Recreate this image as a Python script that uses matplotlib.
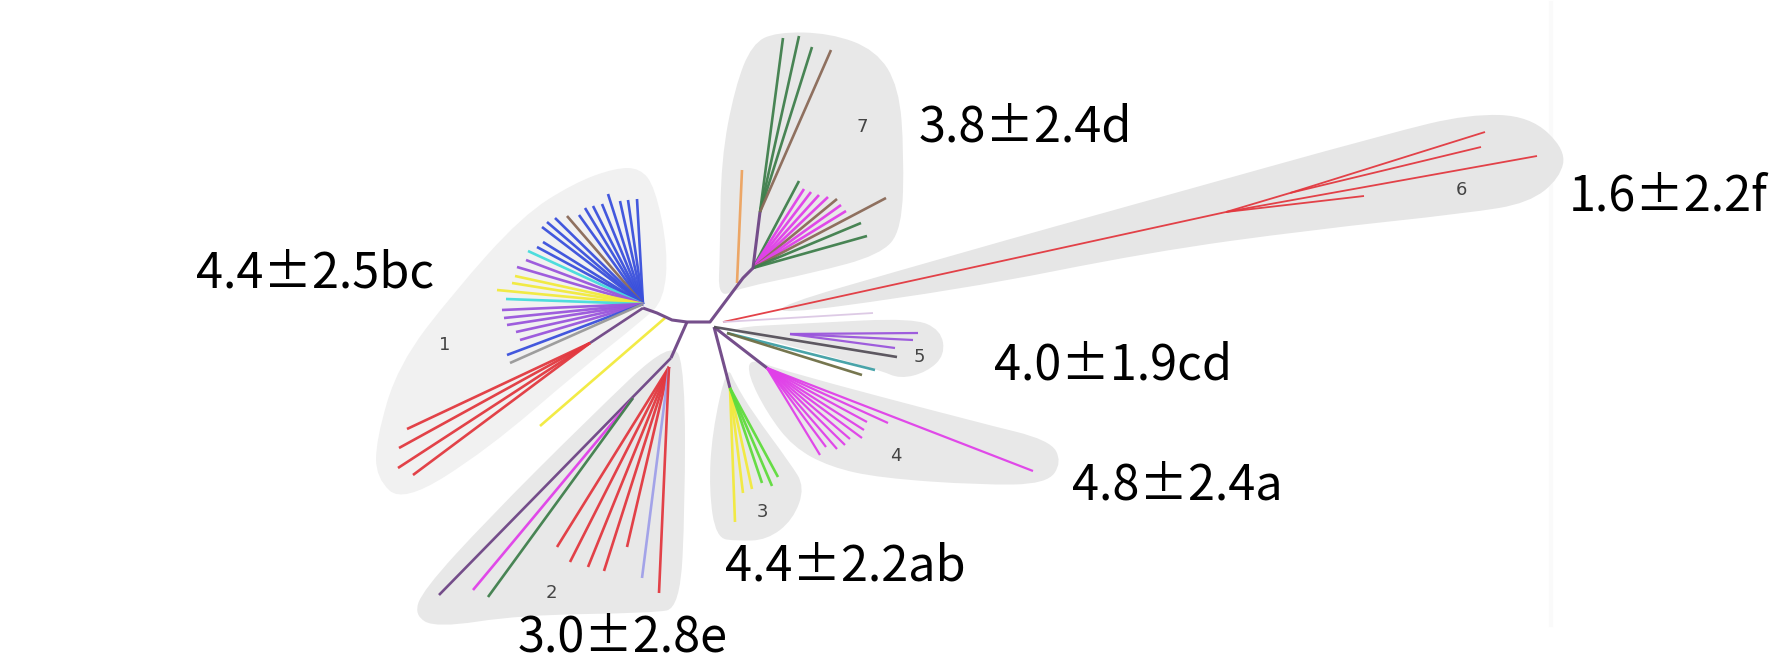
import matplotlib
matplotlib.use('Agg')
import matplotlib.pyplot as plt
from matplotlib.path import Path
from matplotlib.patches import PathPatch

RED = '#e2383f'
BLUE = '#3a50dc'
PURPLE = '#9a55dc'
TRUNK = '#6e4585'
GREEN = '#3f7f4c'
BROWN = '#8a6a58'
YELLOW = '#f2ea3c'
CYAN = '#45dcdc'
MAG = '#e040e8'
LIME = '#5fdc3c'

# labels
labels = ['4.4±2.5bc', '3.8±2.4d', '1.6±2.2f', '4.0±1.9cd', '4.8±2.4a', '4.4±2.2ab', '3.0±2.8e']
label_x = [196, 919, 1569, 994, 1072, 725, 518]
label_y = [274, 128, 197, 366, 486, 567, 638]

nums = ['1', '2', '3', '4', '5', '6', '7']
num_x = [445, 551, 762, 896, 919, 1461, 862]
num_y = [345, 593, 512, 456, 357, 190, 127]

# gray clade outlines
blob1_x = [640, 655, 668, 664, 643, 580, 487, 403, 376, 376, 398, 454, 522, 574, 615]
blob1_y = [168, 187, 250, 300, 320, 370, 450, 503, 478, 440, 365, 292, 216, 183, 168]
blob2_x = [673, 685, 685, 680, 653, 520, 436, 414, 423, 487, 587]
blob2_y = [338, 373, 507, 608, 613, 615, 628, 615, 590, 520, 420]
blob3_x = [727, 712, 709, 716, 737, 767, 793, 805, 790, 753, 735]
blob3_y = [365, 433, 490, 538, 541, 540, 520, 487, 463, 413, 383]
blob4_x = [750, 780, 980, 1050, 1062, 1047, 980, 880, 830, 793, 767, 748]
blob4_y = [358, 370, 423, 440, 462, 484, 485, 478, 467, 447, 413, 375]
blob5_x = [717, 813, 913, 941, 945, 927, 900, 880, 780]
blob5_y = [328, 323, 318, 330, 355, 372, 379, 370, 343]
blob6_x = [722, 960, 1150, 1390, 1469, 1530, 1566, 1560, 1529, 1469, 1310, 1150, 960]
blob6_y = [322, 253, 200, 133, 114, 116, 150, 178, 203, 213, 230, 252, 290]
blob7_x = [776, 830, 876, 899, 904, 902, 880, 813, 740, 718, 720, 721, 735, 752]
blob7_y = [32, 33, 50, 87, 153, 230, 255, 273, 288, 298, 253, 160, 87, 44]

# backbone
trunk_x = [643, 657, 672, 687, 710, 743, 753, 760]
trunk_y = [308, 313, 320, 322, 322, 278, 268, 212]

# clade 1
c1_x = [637, 628, 620, 608, 602, 593, 585, 579, 567, 555, 547, 542, 543, 537, 528, 526, 517, 515, 512, 497, 506, 502, 504, 507, 516, 520, 507, 510]
c1_y = [199, 200, 201, 194, 204, 206, 208, 215, 216, 218, 222, 227, 242, 247, 251, 260, 267, 276, 283, 290, 299, 310, 318, 325, 332, 340, 355, 363]
c1_col = [BLUE] * 8 + [BROWN] + [BLUE] * 5 + [CYAN] + [PURPLE] * 2 + [YELLOW] * 3 + [CYAN] + [PURPLE] * 5 + [BLUE, '#999999']
c1_red_x = [407, 399, 398, 413]
c1_red_y = [429, 448, 468, 475]
c1_stem_x = [643, 590]
c1_stem_y = [308, 343]
lone_x = [665, 540]
lone_y = [318, 426]

# clade 2
c2_stem_x = [687, 671]
c2_stem_y = [322, 358]
c2_red_x = [557, 570, 588, 604, 627, 642, 659]
c2_red_y = [547, 562, 567, 571, 547, 578, 593]
c2_col = [RED] * 5 + ['#a0a0e8', RED]
c2_long_x = [671, 439]
c2_long_y = [358, 595]
c2_side_x = [473, 488]
c2_side_y = [590, 597]

# clade 3
c3_stem_x = [714, 730]
c3_stem_y = [327, 388]
c3_x = [735, 743, 752, 762, 772, 778]
c3_y = [522, 493, 489, 483, 486, 477]
c3_col = [YELLOW] * 3 + [LIME] * 3

# clade 4
c4_stem_x = [714, 767]
c4_stem_y = [327, 368]
c4_x = [1033, 888, 867, 864, 862, 850, 845, 837, 826, 820]
c4_y = [471, 423, 422, 430, 438, 439, 445, 449, 447, 455]

# clade 5
c5_dark_x = [714, 897]
c5_dark_y = [327, 357]
c5_x = [918, 913, 895]
c5_y = [333, 340, 348]
teal_x = [727, 875]
teal_y = [333, 370]
olive_x = [727, 862]
olive_y = [333, 375]

# clade 6
c6_stem_x = [723, 1226]
c6_stem_y = [322, 212]
c6_x = [1537, 1364]
c6_y = [156, 196]
c6_sub_x = [1290, 1485, 1481]
c6_sub_y = [193, 132, 147]
faint_x = [723, 873]
faint_y = [322, 313]

# clade 7
c7_top_x = [783, 799, 812, 831]
c7_top_y = [38, 36, 47, 50]
c7_top_col = [GREEN] * 3 + [BROWN]
orange_x = [742, 737]
orange_y = [170, 283]
c7_fan_x = [799, 804, 811, 819, 828, 837, 841, 846, 886, 861, 867]
c7_fan_y = [181, 189, 192, 195, 197, 199, 205, 211, 198, 223, 236]
c7_fan_col = [GREEN] + [MAG] * 4 + [BROWN] + [MAG] * 2 + [BROWN, GREEN, GREEN]


def blob(ax, xs, ys, color):
    # closed smooth outline, points are the control points of quadratic curves
    n = len(xs)
    mid = [((xs[i] + xs[(i + 1) % n]) / 2, (ys[i] + ys[(i + 1) % n]) / 2) for i in range(n)]
    verts = [mid[-1]]
    codes = [Path.MOVETO]
    for i in range(n):
        verts += [(xs[i], ys[i]), mid[i]]
        codes += [Path.CURVE3, Path.CURVE3]
    ax.add_patch(PathPatch(Path(verts, codes), fc=color, ec='none', zorder=1))


def line(ax, xs, ys, color, lw=1.9, alpha=0.95, z=3):
    ax.plot(xs, ys, color=color, lw=lw, alpha=alpha, zorder=z, solid_capstyle='butt')


def fan(ax, rx, ry, xs, ys, cols, lw=1.9):
    for x, y, c in zip(xs, ys, cols):
        line(ax, [rx, x], [ry, y], c, lw)


fig = plt.figure(figsize=(17.76, 6.55), dpi=100)
ax = fig.add_axes([0, 0, 1, 1])
ax.set_xlim(0, 1776)
ax.set_ylim(655, 0)
ax.axis('off')

# faint seam of the pasted image
ax.plot([1551, 1551], [3, 625], color='#fafafa', lw=3, zorder=0)

blob(ax, blob1_x, blob1_y, '#f1f1f1')
blob(ax, blob2_x, blob2_y, '#e8e8e8')
blob(ax, blob3_x, blob3_y, '#e8e8e8')
blob(ax, blob4_x, blob4_y, '#e8e8e8')
blob(ax, blob5_x, blob5_y, '#e8e8e8')
blob(ax, blob6_x, blob6_y, '#e6e6e6')
blob(ax, blob7_x, blob7_y, '#e8e8e8')

# clade 1
fan(ax, 643, 304, c1_x, c1_y, c1_col)
line(ax, c1_stem_x, c1_stem_y, TRUNK)
fan(ax, c1_stem_x[1], c1_stem_y[1], c1_red_x, c1_red_y, [RED] * 4)
line(ax, lone_x, lone_y, YELLOW)

# clade 2
line(ax, c2_stem_x, c2_stem_y, TRUNK, 2.2)
fan(ax, 669, 367, c2_red_x, c2_red_y, c2_col)
line(ax, c2_long_x, c2_long_y, TRUNK)
fan(ax, 633, 398, c2_side_x, c2_side_y, [MAG, GREEN])

# clade 3
line(ax, c3_stem_x, c3_stem_y, TRUNK, 2.2)
fan(ax, c3_stem_x[1], c3_stem_y[1], c3_x, c3_y, c3_col)

# clade 4
line(ax, c4_stem_x, c4_stem_y, TRUNK, 2.2)
fan(ax, c4_stem_x[1], c4_stem_y[1], c4_x, c4_y, [MAG] * 10, 1.6)

# clade 5
fan(ax, 790, 334, c5_x, c5_y, [PURPLE] * 3, 1.6)
line(ax, c5_dark_x, c5_dark_y, '#55505a')
line(ax, teal_x, teal_y, '#3f9fa5')
line(ax, olive_x, olive_y, '#6f6f45')

# clade 6
line(ax, c6_stem_x, c6_stem_y, RED, 1.3)
fan(ax, c6_stem_x[1], c6_stem_y[1], c6_x, c6_y, [RED] * 2, 1.3)
line(ax, [c6_stem_x[1], c6_sub_x[0]], [c6_stem_y[1], c6_sub_y[0]], RED, 1.3)
fan(ax, c6_sub_x[0], c6_sub_y[0], c6_sub_x[1:], c6_sub_y[1:], [RED] * 2, 1.3)
line(ax, faint_x, faint_y, '#dcc8e4', 1.3)

# clade 7
fan(ax, 760, 212, c7_top_x, c7_top_y, c7_top_col)
line(ax, orange_x, orange_y, '#eda35f')
fan(ax, 753, 268, c7_fan_x, c7_fan_y, c7_fan_col)

line(ax, trunk_x, trunk_y, TRUNK, 2.2, z=4)

for t, x, y in zip(labels, label_x, label_y):
    ax.text(x, y, t, fontsize=35, ha='left', va='center', color='black',
            family=['Noto Sans CJK JP', 'Noto Sans'], zorder=6)
for t, x, y in zip(nums, num_x, num_y):
    ax.text(x, y, t, fontsize=13, ha='center', va='center', color='#444444', zorder=6)

fig.savefig('out.png', dpi=100)
